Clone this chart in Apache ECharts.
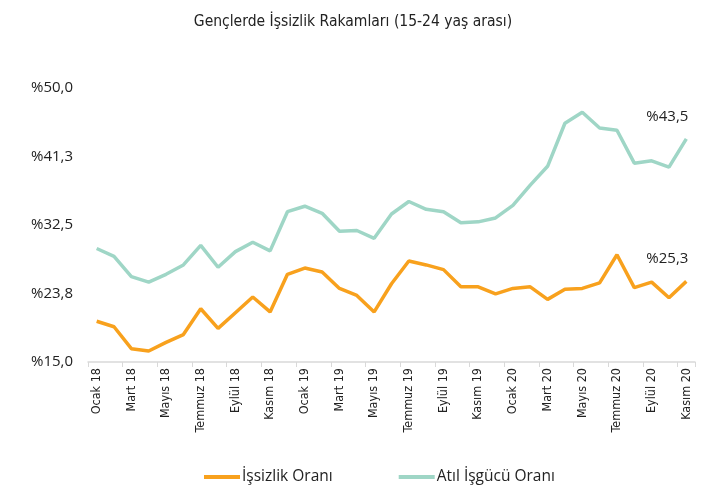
<!DOCTYPE html>
<html>
<head>
<meta charset="utf-8">
<script src="https://cdn.jsdelivr.net/npm/echarts@6/dist/echarts.min.js"></script>
<style>
  html, body { margin: 0; padding: 0; background: #fff; }
  #chart { width: 706px; height: 496px; }
</style>
</head>
<body>
<div id="chart"></div>
<script>
var months = [
  'Ocak 18', 'Şubat 18', 'Mart 18', 'Nisan 18', 'Mayıs 18', 'Haziran 18',
  'Temmuz 18', 'Ağustos 18', 'Eylül 18', 'Ekim 18', 'Kasım 18', 'Aralık 18',
  'Ocak 19', 'Şubat 19', 'Mart 19', 'Nisan 19', 'Mayıs 19', 'Haziran 19',
  'Temmuz 19', 'Ağustos 19', 'Eylül 19', 'Ekim 19', 'Kasım 19', 'Aralık 19',
  'Ocak 20', 'Şubat 20', 'Mart 20', 'Nisan 20', 'Mayıs 20', 'Haziran 20',
  'Temmuz 20', 'Ağustos 20', 'Eylül 20', 'Ekim 20', 'Kasım 20'
];

// İşsizlik Oranı
var unemployment = [
  20.2, 19.5, 16.7, 16.4, 17.5, 18.5, 21.8, 19.3, 21.3, 23.3, 21.4, 26.2,
  27.0, 26.5, 24.4, 23.5, 21.4, 25.0, 27.9, 27.4, 26.8, 24.6, 24.6, 23.7,
  24.4, 24.6, 23.0, 24.3, 24.4, 25.1, 28.7, 24.5, 25.2, 23.2, 25.3
];

// Atıl İşgücü Oranı
var idleLabour = [
  29.5, 28.5, 25.9, 25.2, 26.2, 27.4, 29.9, 27.1, 29.1, 30.3, 29.2, 34.2,
  34.9, 34.0, 31.7, 31.8, 30.8, 33.9, 35.5, 34.5, 34.2, 32.8, 32.9, 33.4,
  35.0, 37.6, 40.0, 45.5, 46.9, 44.9, 44.6, 40.4, 40.7, 39.9, 43.5
];

var yMin = 15, yMax = 50, yStep = 8.75;

function pct(v) {
  return '%' + v.toFixed(1).replace('.', ',');
}

// only the last point carries a value label
function lastLabel(arr) {
  return arr.map(function (v, i) {
    if (i !== arr.length - 1) return v;
    return {
      value: v,
      label: {
        show: true,
        position: 'top',
        distance: 0,
        offset: [-19, -15],
        formatter: function (p) { return pct(p.value); },
        fontSize: 15,
        color: '#222',
        fontFamily: 'Open Sans'
      }
    };
  });
}

var chart = echarts.init(document.getElementById('chart'));
chart.setOption({
  animation: false,
  backgroundColor: '#fff',
  title: {
    text: 'Gençlerde İşsizlik Rakamları (15-24 yaş arası)',
    left: 'center',
    top: 9,
    textStyle: {
      fontFamily: 'DejaVu Sans Condensed',
      fontSize: 15.5,
      fontWeight: 'normal',
      color: '#222'
    }
  },
  grid: { left: 88, right: 11, top: 88, bottom: 134 },
  legend: {
    bottom: 6,
    left: 199,
    icon: 'rect',
    itemWidth: 36,
    itemHeight: 4,
    itemGap: 66,
    textStyle: { fontFamily: 'Open Sans', fontSize: 15.5, color: '#222', padding: [0, 0, 0, -3] },
    data: ['İşsizlik Oranı', 'Atıl İşgücü Oranı']
  },
  xAxis: {
    type: 'category',
    data: months,
    boundaryGap: true,
    axisLine: { lineStyle: { color: '#d9d9d9', width: 1.5 } },
    axisTick: { show: true, interval: 1, length: 5, lineStyle: { color: '#d9d9d9' } },
    axisLabel: {
      interval: 1,
      rotate: 90,
      fontFamily: 'DejaVu Sans Condensed',
      fontSize: 12.5,
      color: '#222',
      margin: 6
    }
  },
  yAxis: {
    type: 'value',
    min: yMin,
    max: yMax,
    interval: yStep,
    axisLine: { show: false },
    axisTick: { show: false },
    splitLine: { show: false },
    axisLabel: {
      formatter: pct,
      fontFamily: 'Open Sans',
      fontSize: 15,
      color: '#222',
      margin: 15
    }
  },
  series: [
    {
      name: 'İşsizlik Oranı',
      type: 'line',
      data: lastLabel(unemployment),
      symbol: 'circle',
      symbolSize: 0,
      showSymbol: true,
      color: '#F8A11D',
      lineStyle: { width: 3.5, color: '#F8A11D' }
    },
    {
      name: 'Atıl İşgücü Oranı',
      type: 'line',
      data: lastLabel(idleLabour),
      symbol: 'circle',
      symbolSize: 0,
      showSymbol: true,
      color: '#9FD6C6',
      lineStyle: { width: 3.5, color: '#9FD6C6' }
    }
  ]
});
</script>
</body>
</html>
